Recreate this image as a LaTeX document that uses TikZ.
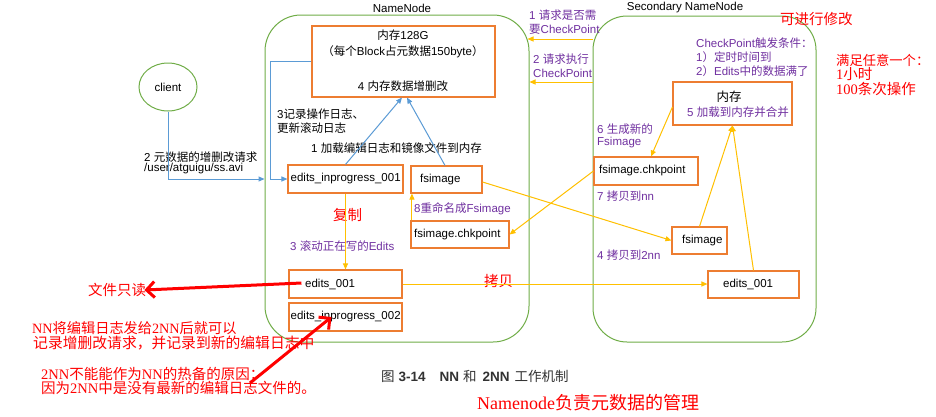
\documentclass[tikz,border=0pt]{standalone}
\usepackage{fontspec}
\setmainfont{Liberation Sans}
\newfontfamily\lsans{Liberation Sans}
\newfontfamily\lserif{Liberation Serif}
\newfontfamily\cjkfont{Noto Sans CJK SC}
\def\latinfont{\lsans}
\XeTeXinterchartokenstate=1
\newXeTeXintercharclass\cjkcls
\newcount\cjkcnt
\def\setcjkrange#1#2{\cjkcnt=#1\relax\loop\XeTeXcharclass\cjkcnt=\cjkcls\relax\advance\cjkcnt by 1\relax\ifnum\cjkcnt<#2\relax\repeat}
\setcjkrange{"3000}{"3040}
\setcjkrange{"4E00}{"A000}
\setcjkrange{"FF00}{"FFF0}
\XeTeXinterchartoks 0 \cjkcls = {\cjkfont}
\XeTeXinterchartoks 4095 \cjkcls = {\cjkfont}
\XeTeXinterchartoks \cjkcls 0 = {\latinfont}
\XeTeXinterchartoks 4095 0 = {\latinfont}
\usetikzlibrary{arrows.meta,shapes.geometric}
\definecolor{grn}{RGB}{112,173,71}
\definecolor{boxor}{RGB}{237,125,49}
\definecolor{blu}{RGB}{91,155,213}
\definecolor{yel}{RGB}{255,192,0}
\definecolor{purp}{RGB}{112,48,160}
\definecolor{capgray}{RGB}{50,50,50}
\begin{document}
\begin{tikzpicture}[x=1pt,y=-1pt,
  obox/.style={draw=boxor, line width=1.1pt, inner sep=0pt},
  grp/.style={draw=grn, line width=1pt, inner sep=0pt},
  bl/.style={draw=blu, line width=1pt, -{Triangle[length=6pt,width=5pt]}},
  yl/.style={draw=yel, line width=1pt, -{Triangle[length=6pt,width=5pt]}},
  ra/.style={draw=red, line width=3pt, -{Straight Barb[length=8pt,width=16pt]}},
  txt/.style={inner sep=0pt, font=\fontsize{11.5}{13}\selectfont, text=black},
  ptxt/.style={txt, text=purp},
  rtxt/.style={inner sep=0pt, font=\def\latinfont{\lserif}\lserif\fontsize{#1}{16}\selectfont, text=red},
  rtxt/.default=14.5,
  lw/.style={anchor=west}
]
\fill[white] (0,0) rectangle (936,416);
\useasboundingbox (0,0) rectangle (936,416);

% group frames
\node[grp, rounded corners=36pt, minimum width=264pt, minimum height=327pt] (nn) at (397,178.5) {};
\node[grp, rounded corners=34pt, minimum width=223pt, minimum height=326pt] (nn2) at (704.5,179) {};
\node[txt] (nnlab) at (402,8) {NameNode};
\node[txt] (nn2lab) at (685,8) {Secondary NameNode};

% client
\node[grp, ellipse, minimum width=58pt, minimum height=48pt] (client) at (168,87) {};
\node[txt] (clienttxt) at (168,87) {client};

% NameNode boxes
\node[obox, minimum width=183pt, minimum height=71pt] (mem) at (403.5,61.5) {};
\node[txt] (memA) at (403,35) {内存128G};
\node[txt] (memB) at (403,52) {（每个Block占元数据150byte）};
\node[txt] (memC) at (403,86) {4 内存数据增删改};

\node[obox, minimum width=115pt, minimum height=28pt] (eip) at (345.5,179) {};
\node[txt, lw] (eipt) at (290.5,179) {edits\_inprogress\_001};
\node[obox, minimum width=71pt, minimum height=27pt] (fs) at (446.5,179.5) {};
\node[txt, lw] (fst) at (420,179.5) {fsimage};
\node[obox, minimum width=98pt, minimum height=27pt] (fck) at (460,234.5) {};
\node[txt, lw] (fckt) at (414,234.5) {fsimage.chkpoint};
\node[obox, minimum width=113pt, minimum height=28pt] (e1) at (345.5,284) {};
\node[txt, lw] (e1t) at (305,284) {edits\_001};
\node[obox, minimum width=113pt, minimum height=28pt] (e2) at (345.5,317) {};
\node[txt, lw] (e2t) at (290.5,317) {edits\_inprogress\_002};

% Secondary NameNode boxes
\node[obox, minimum width=119pt, minimum height=43pt] (mem2) at (732.5,103.5) {};
\node[txt, font=\fontsize{12.5}{14}\selectfont] (mem2A) at (729,97) {内存};
\node[ptxt] (mem2B) at (738,112) {5 加载到内存并合并};
\node[obox, minimum width=104pt, minimum height=28pt] (fck2) at (646,171) {};
\node[txt, lw] (fck2t) at (599,171) {fsimage.chkpoint};
\node[obox, minimum width=55pt, minimum height=27pt] (fs2) at (699.5,240.5) {};
\node[txt, lw] (fs2t) at (682,240.5) {fsimage};
\node[obox, minimum width=91pt, minimum height=27pt] (e1b) at (753.5,284.5) {};
\node[txt, lw] (e1bt) at (723,284.5) {edits\_001};

% labels
\node[txt, lw] (l2a) at (144,157) {2 元数据的增删改请求};
\node[txt, lw] (l2b) at (144,169) {/user/atguigu/ss.avi};
\node[txt, lw] (l3a) at (277,114) {3记录操作日志、};
\node[txt, lw] (l3b) at (277,128) {更新滚动日志};
\node[txt, lw] (l1) at (311,148) {1 加载编辑日志和镜像文件到内存};
\node[rtxt, lw] (lcopy) at (333,215) {复制};
\node[ptxt, lw] (lroll) at (290,246) {3 滚动正在写的Edits};
\node[ptxt, lw] (lren) at (414,209) {8重命名成Fsimage};
\node[rtxt, lw] (lcopy2) at (484,281) {拷贝};
\node[ptxt, lw] (q1a) at (529,15) {1 请求是否需};
\node[ptxt, lw] (q1b) at (529,29) {要CheckPoint};
\node[ptxt, lw] (q2a) at (533,59) {2 请求执行};
\node[ptxt, lw] (q2b) at (533,73) {CheckPoint};
\node[ptxt, lw] (c1) at (696,43) {CheckPoint触发条件：};
\node[ptxt, lw] (c2) at (696,57) {1）定时时间到};
\node[ptxt, lw] (c3) at (696,71) {2）Edits中的数据满了};
\node[ptxt, lw] (l6a) at (597,129) {6 生成新的};
\node[ptxt, lw] (l6b) at (597,143) {Fsimage};
\node[ptxt, lw] (l7) at (597,196) {7 拷贝到nn};
\node[ptxt, lw] (l4) at (597,255) {4 拷贝到2nn};

% red notes
\node[rtxt, lw] (rmod) at (780,19) {可进行修改};
\node[rtxt=13.3, lw] (rany) at (836,60) {满足任意一个：};
\node[rtxt, lw] (rhr) at (836,74) {1小时};
\node[rtxt, lw] (rops) at (836,89) {100条次操作};
\node[rtxt, lw] (rd) at (88,290) {文件只读};
\node[rtxt=14.2, lw] (rn1) at (32,328) {NN将编辑日志发给2NN后就可以};
\node[rtxt=14.8, lw] (rn2) at (33,343) {记录增删改请求，并记录到新的编辑日志中};
\node[rtxt, lw] (rn3) at (41,374) {2NN不能能作为NN的热备的原因：};
\node[rtxt, lw] (rn4) at (41,388) {因为2NN中是没有最新的编辑日志文件的。};
\node[inner sep=0pt, lw, text=capgray, font=\fontsize{13.5}{15}\selectfont] (cap) at (381,376) {图\hspace{4pt}\textbf{3-14}\hspace{14pt}\textbf{NN}\hspace{4pt}和\hspace{6pt}\textbf{2NN}\hspace{5pt}工作机制};
\node[rtxt=18, lw] (foot) at (477,403) {Namenode负责元数据的管理};

% blue connectors
\draw[bl] (client.south) |- (nn.west |- eip.west);
\draw[bl] (mem.west) -- ++(-41,0) |- (eip.west);
\draw[bl] (eip.north) -- ([xshift=-1.5pt]mem.south);
\draw[bl] ([xshift=-1.5pt]fs.north) -- ([xshift=3.5pt]mem.south);

% yellow connectors
\coordinate (qy1) at (560,39);
\coordinate (qy2) at (560,82);
\draw[yl] (nn2.west |- qy1) -- ([xshift=-2pt]nn.east |- qy1);
\draw[yl] (nn2.west |- qy2) -- (nn.east |- qy2);
\draw[yl] (eip.south) -- (e1.north);
\draw[yl] ([xshift=1.5pt]fck.north west) -- ([xshift=1.5pt]fs.south west);
\draw[yl] (e1.east) -- (e1.east -| e1b.west);
\draw[yl] ([yshift=-2.5pt]fs.east) -- (fs2.west);
\draw[yl] (fck2.west) -- (fck.east);
\draw[yl] ([yshift=-3.5pt]mem2.west) -- ([xshift=5pt]fck2.north);
\draw[yl] (fs2.north) -- (mem2.south);
\draw[yl] (e1b.north) -- (mem2.south);

% red arrows
\coordinate (w2) at (250,383);
\draw[ra] ([xshift=13pt,yshift=1pt]e1.west) -- ([xshift=-2pt]rd.east);
\draw[ra] (w2) -- ([xshift=43pt]e2.west);
\end{tikzpicture}
\end{document}
